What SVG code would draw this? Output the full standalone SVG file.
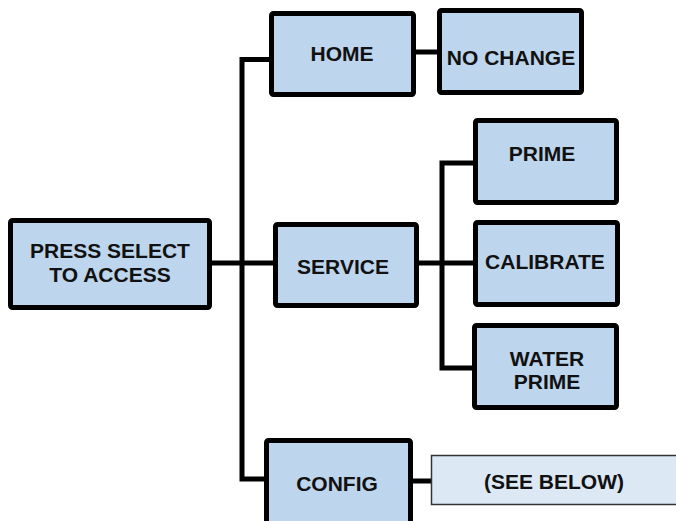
<svg xmlns="http://www.w3.org/2000/svg" width="676" height="521" viewBox="0 0 676 521">
<style>
.box{fill:#bdd5ed;stroke:#000;stroke-width:5}
.lite{fill:#dde8f5;stroke:#333;stroke-width:1.5}
.t{font-family:"Liberation Sans",Arial,sans-serif;font-weight:bold;font-size:21px;fill:#111;text-anchor:middle}
.c{fill:none;stroke:#000;stroke-width:5}
</style>
<rect width="676" height="521" fill="#fff"/>
<g id="connectors">
<path class="c" d="M269 59.5H242V479H264"/>
<path class="c" d="M212 263H273"/>
<path class="c" d="M419 263H473"/>
<path class="c" d="M473 163H442V368H472"/>
<path class="c" d="M416 52H437"/>
<path class="c" d="M413 481H431"/>
</g>
<g id="press"><rect class="box" x="10.5" y="220.5" width="199" height="87" rx="2"/><text class="t" x="110" y="258">PRESS SELECT</text><text class="t" x="110" y="282">TO ACCESS</text></g>
<g id="home"><rect class="box" x="271.5" y="13.5" width="142" height="81" rx="2"/><text class="t" x="342" y="61">HOME</text></g>
<g id="nochange"><rect class="box" x="439.5" y="10.5" width="142" height="82" rx="2"/><text class="t" x="511" y="65">NO CHANGE</text></g>
<g id="service"><rect class="box" x="275.5" y="224.5" width="141" height="81" rx="2"/><text class="t" x="343" y="274">SERVICE</text></g>
<g id="prime"><rect class="box" x="475.5" y="120.5" width="141" height="82" rx="2"/><text class="t" x="542" y="161">PRIME</text></g>
<g id="calibrate"><rect class="box" x="475.5" y="222.5" width="142" height="82" rx="2"/><text class="t" x="545" y="269">CALIBRATE</text></g>
<g id="waterprime"><rect class="box" x="474.5" y="325.5" width="142" height="82" rx="2"/><text class="t" x="547" y="366">WATER</text><text class="t" x="547" y="389">PRIME</text></g>
<g id="config"><rect class="box" x="266.5" y="440.5" width="144" height="90" rx="2"/><text class="t" x="337" y="491">CONFIG</text></g>
<g id="seebelow"><rect class="lite" x="431.5" y="455.5" width="260" height="49"/><text class="t" x="554" y="489">(SEE BELOW)</text></g>
</svg>
